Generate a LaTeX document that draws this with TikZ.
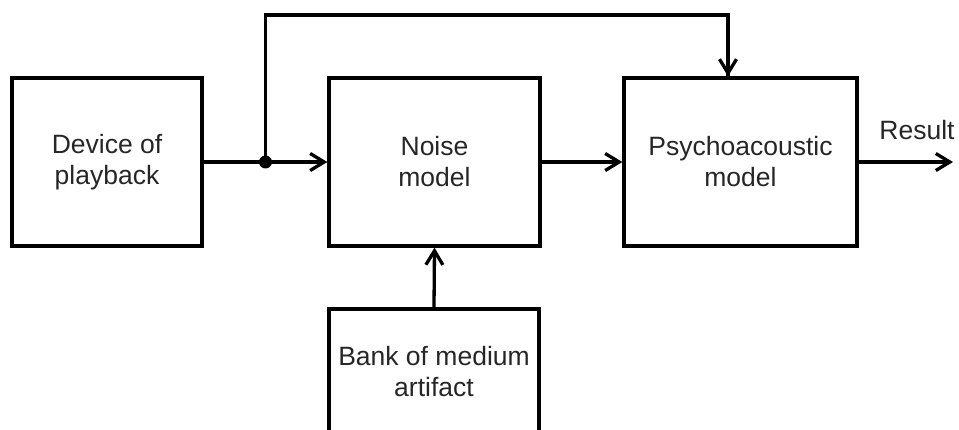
\documentclass[tikz,border=0pt]{standalone}
\usepackage{fontspec}
\setmainfont{Liberation Sans}
\usetikzlibrary{arrows.meta}
\definecolor{txt}{HTML}{262626}
\begin{document}
\begin{tikzpicture}[x=1pt,y=-1pt,
  lbl/.style={font=\fontsize{26.5}{31}\selectfont, text=txt},
  box/.style={draw=black, line width=3.3pt, align=center, inner sep=0pt, lbl},
  conn/.style={line width=3.3pt},
  arr/.style={conn, -{Straight Barb[length=14pt,width=17pt,line width=3.3pt]}}]
\useasboundingbox (0,0) rectangle (959,430);
\clip (0,0) rectangle (959,430);
\node[box, minimum width=190pt, minimum height=168pt] (dev) at (107,162) {Device of\\playback};
\node[box, minimum width=211pt, minimum height=168pt] (noise) at (434.5,162) {Noise\\model};
\node[box, minimum width=233pt, minimum height=168pt] (psy) at (740.5,162) {Psychoacoustic\\model};
\node[box, minimum width=210pt, minimum height=125pt] (bank) at (434,371.5) {Bank of medium\\artifact};
\coordinate (j) at (265.5,162);
\coordinate (tl) at (265.5,15);
\coordinate (tr) at (728,15);
\coordinate (res) at (953,162);
\draw[conn] (dev.east) -- (j);
\draw[arr] (j) -- (noise.west);
\draw[arr] (noise.east) -- (psy.west);
\draw[conn, line join=miter] (j) -- (tl) -- (tr) -- ([yshift=-1pt]tr |- psy.north);
\draw[arr] (tr) -- (tr |- psy.north);
\draw[arr] (bank.north) -- (noise.south);
\draw[arr] (psy.east) -- (res);
\node[lbl, anchor=base] (reslabel) at (917,140) {Result};
\fill (j) circle (6.5pt);
\end{tikzpicture}
\end{document}
